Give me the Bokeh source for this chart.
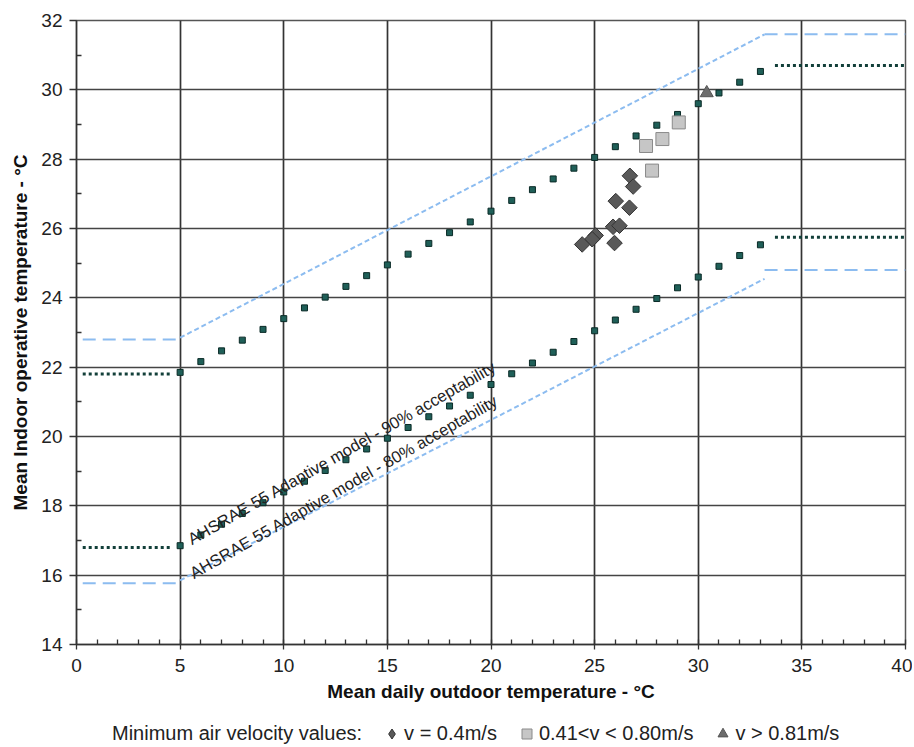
import math
from bokeh.plotting import figure
from bokeh.layouts import column
from bokeh.models import Range1d, FixedTicker, Legend, LegendItem
from bokeh.core.properties import value
from bokeh.embed import file_html
from bokeh.resources import INLINE

# ---------------- data ----------------
x_ticks = [0, 5, 10, 15, 20, 25, 30, 35, 40]
x_minor = list(range(0, 41))
y_ticks = [14, 16, 18, 20, 22, 24, 26, 28, 30, 32]
y_minor = [15, 17, 19, 21, 23, 25, 27, 29, 31]

# ASHRAE 55 adaptive model, 90% acceptability limits (square markers)
model_x = [5, 6, 7, 8, 9, 10, 11, 12, 13, 14, 15, 16, 17, 18, 19, 20,
           21, 22, 23, 24, 25, 26, 27, 28, 29, 30, 31, 32, 33]
upper90 = [21.85, 22.16, 22.47, 22.78, 23.09, 23.40, 23.71, 24.02, 24.33, 24.64,
           24.95, 25.26, 25.57, 25.88, 26.19, 26.50, 26.81, 27.12, 27.43, 27.74,
           28.05, 28.36, 28.67, 28.98, 29.29, 29.60, 29.91, 30.22, 30.53]
lower90 = [16.85, 17.16, 17.47, 17.78, 18.09, 18.40, 18.71, 19.02, 19.33, 19.64,
           19.95, 20.26, 20.57, 20.88, 21.19, 21.50, 21.81, 22.12, 22.43, 22.74,
           23.05, 23.36, 23.67, 23.98, 24.29, 24.60, 24.91, 25.22, 25.53]

# 90% flat extensions (dotted)
flat90_left_x = [0.3, 4.6]
flat90_left_hi = [21.8, 21.8]
flat90_left_lo = [16.8, 16.8]
flat90_right_x = [33.7, 40]
flat90_right_hi = [30.7, 30.7]
flat90_right_lo = [25.75, 25.75]

# 80% acceptability limits (blue dashed)
lim80_left_x = [0.3, 4.8]
lim80_left_hi = [22.8, 22.8]
lim80_left_lo = [15.77, 15.77]
lim80_diag_x = [5.0, 33.2]
lim80_diag_hi = [22.85, 31.6]
lim80_diag_lo = [15.85, 24.55]
lim80_right_x = [33.2, 40]
lim80_right_hi = [31.6, 31.6]
lim80_right_lo = [24.8, 24.8]

# measured points
v04_x = [26.70, 26.86, 26.02, 26.68, 25.89, 26.20, 25.05, 24.88, 24.40, 25.96]
v04_y = [27.52, 27.21, 26.79, 26.60, 26.05, 26.08, 25.80, 25.69, 25.54, 25.58]
v08_x = [29.06, 28.27, 27.48, 27.77]
v08_y = [29.06, 28.58, 28.38, 27.67]
v81_x = [30.41]
v81_y = [29.91]

label90 = ["AHSRAE 55 Adaptive model - 90% acceptability"]
label80 = ["AHSRAE 55 Adaptive model - 80% acceptability"]
legend_title = "Minimum air velocity values:"
legend_labels = ["v = 0.4m/s", "0.41<v < 0.80m/s", "v > 0.81m/s"]

FONT = "Liberation Sans"

# marker styles
STY_D = dict(marker="square", angle=math.pi / 4, size=11,
             fill_color="#595959", line_color="#333333", line_width=1)
STY_S = dict(marker="square", size=13,
             fill_color="#c6c6c6", line_color="#8a8a8a", line_width=1)
STY_T = dict(marker="triangle", size=13,
             fill_color="#6c6c6c", line_color="#555555", line_width=1)

p = figure(frame_width=829, frame_height=624,
           x_range=Range1d(0, 40), y_range=Range1d(14, 32),
           output_backend="svg", toolbar_location=None,
           min_border_left=76, min_border_right=7,
           min_border_top=20, min_border_bottom=65,
           background_fill_color="white", border_fill_color="white")
p.outline_line_color = "#555555"
p.outline_line_width = 1.5

# axes
p.xaxis.ticker = FixedTicker(ticks=x_ticks, minor_ticks=x_minor)
p.yaxis.ticker = FixedTicker(ticks=y_ticks, minor_ticks=y_minor)
for ax in (p.xaxis[0], p.yaxis[0]):
    ax.axis_line_color = "#333333"
    ax.axis_line_width = 1.5
    ax.major_tick_line_color = "#333333"
    ax.minor_tick_line_color = "#333333"
    ax.major_tick_line_width = 1.3
    ax.minor_tick_line_width = 1.3
    ax.major_label_text_font = FONT
    ax.major_label_text_font_size = "19px"
    ax.major_label_text_color = "#222222"
    ax.axis_label_text_font = FONT
    ax.axis_label_text_font_size = "19px"
    ax.axis_label_text_font_style = "bold"
    ax.axis_label_text_color = "#111111"

p.xaxis.axis_label = "Mean daily outdoor temperature - °C"
p.xaxis.major_tick_out = 5
p.xaxis.major_tick_in = 0
p.xaxis.minor_tick_in = 5
p.xaxis.minor_tick_out = 0
p.xaxis.major_label_standoff = 9
p.xaxis.axis_label_standoff = 6

p.yaxis.axis_label = "Mean Indoor operative temperature - °C"
p.yaxis.major_tick_out = 7
p.yaxis.major_tick_in = 0
p.yaxis.minor_tick_in = 5
p.yaxis.minor_tick_out = 0
p.yaxis.major_label_standoff = 7
p.yaxis.axis_label_standoff = 7

p.xgrid.grid_line_color = "#333333"
p.xgrid.grid_line_width = 1.7
p.ygrid.grid_line_color = "#444444"
p.ygrid.grid_line_width = 1.7

# 80% blue dashed limits
blue = "#8cbcf0"
for xs, ys in ((lim80_left_x, lim80_left_hi), (lim80_left_x, lim80_left_lo),
               (lim80_right_x, lim80_right_hi), (lim80_right_x, lim80_right_lo)):
    p.line(xs, ys, line_color=blue, line_width=2, line_dash="13 7")
for xs, ys in ((lim80_diag_x, lim80_diag_hi), (lim80_diag_x, lim80_diag_lo)):
    p.line(xs, ys, line_color=blue, line_width=2, line_dash="5 3")

# 90% dotted extensions
green = "#123f39"
for xs, ys in ((flat90_left_x, flat90_left_hi), (flat90_left_x, flat90_left_lo),
               (flat90_right_x, flat90_right_hi), (flat90_right_x, flat90_right_lo)):
    p.line(xs, ys, line_color=green, line_width=3, line_dash="3 3")

# 90% markers
p.scatter(model_x, upper90, marker="square", size=6,
          fill_color="#1f5f58", line_color="#0a2a26", line_width=1)
p.scatter(model_x, lower90, marker="square", size=6,
          fill_color="#1f5f58", line_color="#0a2a26", line_width=1)

# measured points
p.scatter(v04_x, v04_y, **STY_D)
p.scatter(v08_x, v08_y, **STY_S)
p.scatter(v81_x, v81_y, **STY_T)

# rotated annotations
ang = math.radians(29.8)
p.text(x=[5.43], y=[17.01], text=label90, angle=ang,
       text_font=value(FONT), text_font_size="16.5px",
       text_baseline="alphabetic", text_align="left", text_color="#222222")
p.text(x=[5.52], y=[16.03], text=label80, angle=ang,
       text_font=value(FONT), text_font_size="16.5px",
       text_baseline="alphabetic", text_align="left", text_color="#222222")

# ---------------- legend strip below the chart ----------------
# (its view range shows none of the data; renderers only feed the legend glyphs)
lg = figure(width=912, height=37, x_range=Range1d(0, 1), y_range=Range1d(0, 1),
            x_axis_type=None, y_axis_type=None,
            output_backend="svg", toolbar_location=None,
            min_border=0, background_fill_color="white", border_fill_color="white")
lg.outline_line_color = None
lg.grid.visible = False
r_dummy = lg.scatter(v81_x, v81_y, marker="square", size=1, fill_alpha=0, line_alpha=0)
r_d = lg.scatter(v04_x, v04_y, marker="diamond", size=11,
                 fill_color="#595959", line_color="#333333", line_width=1)
r_s = lg.scatter(v08_x, v08_y, **STY_S)
r_t = lg.scatter(v81_x, v81_y, **STY_T)
legend = Legend(items=[
    LegendItem(label=legend_title, renderers=[r_dummy]),
    LegendItem(label=legend_labels[0], renderers=[r_d]),
    LegendItem(label=legend_labels[1], renderers=[r_s]),
    LegendItem(label=legend_labels[2], renderers=[r_t]),
])
legend.orientation = "horizontal"
legend.location = (11, 0)
legend.padding = 0
legend.margin = 0
legend.spacing = 17
legend.glyph_width = 25
legend.glyph_height = 25
legend.label_standoff = 0
legend.label_text_font = FONT
legend.label_text_font_size = "20px"
legend.label_text_color = "#222222"
legend.background_fill_alpha = 0
legend.border_line_alpha = 0
lg.add_layout(legend, "center")

layout = column(p, lg, spacing=0)
open("out.html", "w").write(file_html(layout, INLINE))
